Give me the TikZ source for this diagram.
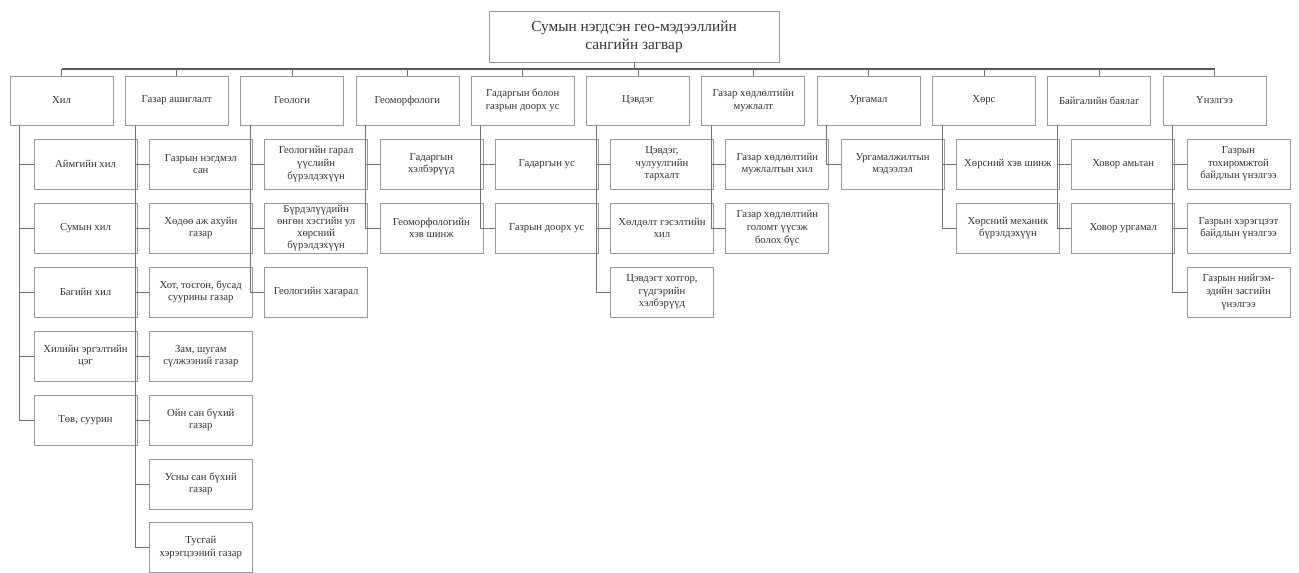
\documentclass[tikz,border=0pt]{standalone}
\usepackage{fontspec}
\setmainfont{Liberation Serif}
\begin{document}
\begin{tikzpicture}[x=0.75pt,y=-0.75pt,
 box/.style={draw=black!40, line width=0.6pt, fill=white, align=center, inner sep=1pt, text=black!80, font=\fontsize{8}{9.4}\selectfont},
 top/.style={box, minimum width=77.25pt, minimum height=36.75pt},
 kid/.style={box, minimum width=77.25pt, minimum height=37.5pt},
 rootbox/.style={box, minimum width=217.5pt, minimum height=38.25pt, font=\fontsize{11.5}{13.5}\selectfont},
 conn/.style={draw=black!55, line width=0.6pt},
 busline/.style={draw=black!65, line width=0.8pt}]
\useasboundingbox (0,0) rectangle (1299,573);
\fill[white] (0,0) rectangle (1299,573);

% root
\node[rootbox] (root) at (634,36.5) {Сумын нэгдсэн гео-мэдээллийн\\сангийн загвар};

% top categories
\node[top] (t0) at (61.5,100.5) {Хил};
\node[top] (t1) at (176.8,100.5) {Газар ашиглалт};
\node[top] (t2) at (292.1,100.5) {Геологи};
\node[top] (t3) at (407.4,100.5) {Геоморфологи};
\node[top] (t4) at (522.7,100.5) {Гадаргын болон\\газрын доорх ус};
\node[top] (t5) at (638.0,100.5) {Цэвдэг};
\node[top] (t6) at (753.3,100.5) {Газар хөдлөлтийн\\мужлалт};
\node[top] (t7) at (868.6,100.5) {Ургамал};
\node[top] (t8) at (983.9,100.5) {Хөрс};
\node[top] (t9) at (1099.2,100.5) {Байгалийн баялаг};
\node[top] (t10) at (1214.5,100.5) {Үнэлгээ};

% bus
\coordinate (bus) at (634,69);
\draw[busline] (t0.north |- bus) -- (t10.north |- bus);
\draw[conn] (root.south) -- (root.south |- bus);
\foreach \i in {0,...,10} \draw[conn] (t\i.north) -- (t\i.north |- bus);

% vertical stems
\foreach \i in {0,...,10} \coordinate (v\i) at ([xshift=7.5pt]t\i.south west);

% children: Хил
\node[kid] (c0a) at (85.5,164) {Аймгийн хил};
\node[kid] (c0b) at (85.5,228) {Сумын хил};
\node[kid] (c0c) at (85.5,292) {Багийн хил};
\node[kid] (c0d) at (85.5,356) {Хилийн эргэлтийн\\цэг};
\node[kid] (c0e) at (85.5,420) {Төв, суурин};
\foreach \c in {a,b,c,d,e} \draw[conn] (v0) |- (c0\c.west);

% Газар ашиглалт
\node[kid] (c1a) at (200.8,164) {Газрын нэгдмэл\\сан};
\node[kid] (c1b) at (200.8,228) {Хөдөө аж ахуйн\\газар};
\node[kid] (c1c) at (200.8,292) {Хот, тосгон, бусад\\суурины газар};
\node[kid] (c1d) at (200.8,356) {Зам, шугам\\сүлжээний газар};
\node[kid] (c1e) at (200.8,420) {Ойн сан бүхий\\газар};
\node[kid] (c1f) at (200.8,484) {Усны сан бүхий\\газар};
\node[kid] (c1g) at (200.8,547.5) {Тусгай\\хэрэгцээний газар};
\foreach \c in {a,b,c,d,e,f,g} \draw[conn] (v1) |- (c1\c.west);

% Геологи
\node[kid] (c2a) at (316.1,164) {Геологийн гарал\\үүслийн\\бүрэлдэхүүн};
\node[kid, font=\fontsize{8}{8.8}\selectfont] (c2b) at (316.1,228) {Бүрдэлүүдийн\\өнгөн хэсгийн ул\\хөрсний\\бүрэлдэхүүн};
\node[kid] (c2c) at (316.1,292) {Геологийн хагарал};
\foreach \c in {a,b,c} \draw[conn] (v2) |- (c2\c.west);

% Геоморфологи
\node[kid] (c3a) at (431.4,164) {Гадаргын\\хэлбэрүүд};
\node[kid] (c3b) at (431.4,228) {Геоморфологийн\\хэв шинж};
\foreach \c in {a,b} \draw[conn] (v3) |- (c3\c.west);

% Гадаргын болон газрын доорх ус
\node[kid] (c4a) at (546.7,164) {Гадаргын ус};
\node[kid] (c4b) at (546.7,228) {Газрын доорх ус};
\foreach \c in {a,b} \draw[conn] (v4) |- (c4\c.west);

% Цэвдэг
\node[kid] (c5a) at (662.0,164) {Цэвдэг,\\чулуулгийн\\тархалт};
\node[kid] (c5b) at (662.0,228) {Хөлдөлт гэсэлтийн\\хил};
\node[kid] (c5c) at (662.0,292) {Цэвдэгт хотгор,\\гүдгэрийн\\хэлбэрүүд};
\foreach \c in {a,b,c} \draw[conn] (v5) |- (c5\c.west);

% Газар хөдлөлтийн мужлалт
\node[kid] (c6a) at (777.3,164) {Газар хөдлөлтийн\\мужлалтын хил};
\node[kid] (c6b) at (777.3,228) {Газар хөдлөлтийн\\голомт үүсэж\\болох бүс};
\foreach \c in {a,b} \draw[conn] (v6) |- (c6\c.west);

% Ургамал
\node[kid] (c7a) at (892.6,164) {Ургамалжилтын\\мэдээлэл};
\draw[conn] (v7) |- (c7a.west);

% Хөрс
\node[kid] (c8a) at (1007.9,164) {Хөрсний хэв шинж};
\node[kid] (c8b) at (1007.9,228) {Хөрсний механик\\бүрэлдэхүүн};
\foreach \c in {a,b} \draw[conn] (v8) |- (c8\c.west);

% Байгалийн баялаг
\node[kid] (c9a) at (1123.2,164) {Ховор амьтан};
\node[kid] (c9b) at (1123.2,228) {Ховор ургамал};
\foreach \c in {a,b} \draw[conn] (v9) |- (c9\c.west);

% Үнэлгээ
\node[kid] (c10a) at (1238.5,164) {Газрын\\тохиромжтой\\байдлын үнэлгээ};
\node[kid] (c10b) at (1238.5,228) {Газрын хэрэгцээт\\байдлын үнэлгээ};
\node[kid] (c10c) at (1238.5,292) {Газрын нийгэм-\\эдийн засгийн\\үнэлгээ};
\foreach \c in {a,b,c} \draw[conn] (v10) |- (c10\c.west);
\end{tikzpicture}
\end{document}
